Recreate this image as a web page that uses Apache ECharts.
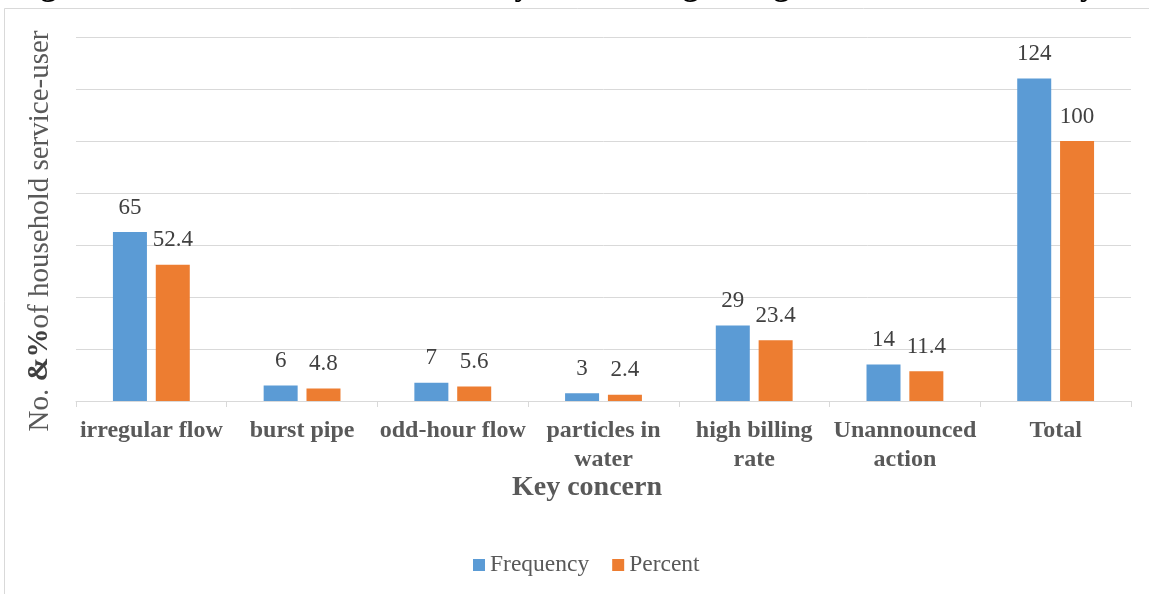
<!DOCTYPE html>
<html>
<head>
<meta charset="utf-8">
<script src="https://cdn.jsdelivr.net/npm/echarts@6/dist/echarts.min.js"></script>
<style>
  html, body { margin: 0; padding: 0; background: #fff; }
  #chart { width: 1149px; height: 594px; }
</style>
</head>
<body>
<div id="chart"></div>
<script>
// Household service-users' key concerns about water service delivery
const categories = [
  'irregular flow',
  'burst pipe',
  'odd-hour flow',
  'particles in\nwater',
  'high billing\nrate',
  'Unannounced\naction',
  'Total'
];
const frequency = [65, 6, 7, 3, 29, 14, 124];
const percent = [52.4, 4.8, 5.6, 2.4, 23.4, 11.4, 100];
const seriesNames = ['Frequency', 'Percent'];
const titleText = 'Figure 4: Household service-users key concern regarding water service delivery';
const yAxisTitle = 'No. {b|&%}of household service-user';
const xAxisTitle = 'Key concern';

const SERIF = '"Liberation Serif", "Times New Roman", serif';
const GREY = '#595959';

const chart = echarts.init(document.getElementById('chart'), null, { renderer: 'canvas' });

chart.setOption({
  animation: false,
  backgroundColor: '#ffffff',
  color: ['#5B9BD5', '#ED7D31'],
  grid: { left: 76, right: 18, top: 37, bottom: 193, containLabel: false },
  legend: {
    data: seriesNames,
    left: 473,
    top: 553,
    padding: 0,
    icon: 'rect',
    itemWidth: 12,
    itemHeight: 12,
    itemGap: 23,
    textStyle: { fontFamily: SERIF, fontSize: 23.5, color: GREY }
  },
  xAxis: {
    type: 'category',
    data: categories,
    axisLine: { lineStyle: { color: '#D9D9D9', width: 1 } },
    axisTick: { show: true, length: 6, lineStyle: { color: '#D9D9D9' } },
    axisLabel: {
      interval: 0,
      margin: 16,
      fontFamily: SERIF,
      fontWeight: 'bold',
      fontSize: 24,
      lineHeight: 28.5,
      color: GREY
    }
  },
  yAxis: {
    type: 'value',
    min: 0,
    max: 140,
    interval: 20,
    axisLine: { show: false },
    axisTick: { show: false },
    axisLabel: { show: false },
    splitLine: { lineStyle: { color: '#D9D9D9', width: 1 } }
  },
  series: [
    {
      name: seriesNames[0],
      type: 'bar',
      data: frequency,
      barWidth: 34,
      barGap: '26%',
      label: {
        show: true, position: 'top', distance: 13,
        fontFamily: SERIF, fontSize: 23, color: '#404040'
      }
    },
    {
      name: seriesNames[1],
      type: 'bar',
      data: percent,
      barWidth: 34,
      barGap: '26%',
      label: {
        show: true, position: 'top', distance: 13,
        fontFamily: SERIF, fontSize: 23, color: '#404040'
      }
    }
  ],
  graphic: [
    {
      type: 'rect',
      silent: true,
      shape: { x: 4.5, y: 8.5, width: 1300, height: 700 },
      style: { fill: 'none', stroke: '#D9D9D9', lineWidth: 1 }
    },
    {
      // figure caption sitting above the frame, mostly off the top edge
      type: 'text',
      silent: true,
      x: 12,
      y: 3,
      style: {
        text: titleText,
        font: 'bold 32px ' + SERIF,
        fill: '#000000',
        align: 'left', textAlign: 'left',
        verticalAlign: 'bottom', textVerticalAlign: 'bottom'
      }
    },
    {
      type: 'text',
      silent: true,
      x: 40,
      y: 231,
      rotation: Math.PI / 2,
      style: {
        text: yAxisTitle,
        font: '29px ' + SERIF,
        fill: GREY,
        align: 'center', textAlign: 'center',
        verticalAlign: 'middle', textVerticalAlign: 'middle',
        rich: {
          b: { font: 'bold 29px ' + SERIF, fill: '#404040' }
        }
      }
    },
    {
      type: 'text',
      silent: true,
      x: 587,
      y: 488,
      style: {
        text: xAxisTitle,
        font: 'bold 28px ' + SERIF,
        fill: GREY,
        align: 'center', textAlign: 'center',
        verticalAlign: 'middle', textVerticalAlign: 'middle'
      }
    }
  ]
});
</script>
</body>
</html>
